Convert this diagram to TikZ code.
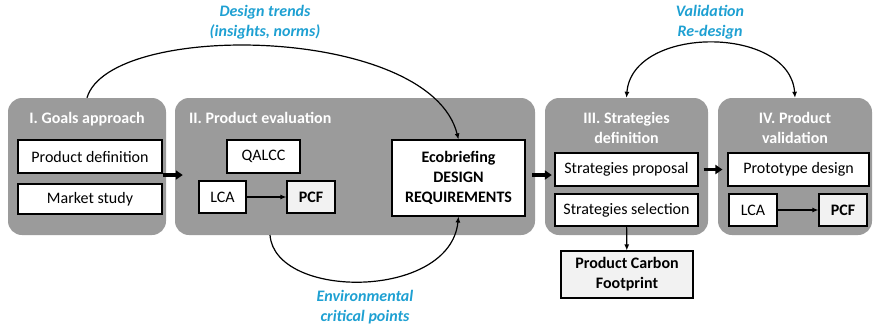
\documentclass[tikz,border=0pt]{standalone}
\usepackage{fontspec}
\setmainfont{Carlito}
\usetikzlibrary{arrows.meta}

\definecolor{panelgray}{RGB}{155,155,155}
\definecolor{boxgray}{RGB}{242,242,242}
\definecolor{noteblue}{RGB}{30,160,210}

\tikzstyle{panel}=[rectangle,rounded corners=14pt,fill=panelgray,inner sep=0pt]
\tikzstyle{title}=[text=white,font=\bfseries,align=center,inner sep=0pt]
\tikzstyle{box}=[rectangle,draw,line width=1.1pt,fill=white,inner sep=0pt,align=center]
\tikzstyle{result}=[box,fill=boxgray,font=\bfseries]
\tikzstyle{flow}=[draw,line width=3.4pt,-{Triangle[length=7pt,width=9pt]}]
\tikzstyle{link}=[draw,line width=1.2pt,-{Latex[length=6pt,width=5pt]}]
\tikzstyle{note}=[text=noteblue,font=\bfseries\itshape,align=center]

\begin{document}
\fontsize{16}{20}\selectfont
\begin{tikzpicture}[x=1pt,y=-1pt]
     \useasboundingbox (0,0) rectangle (873,330);

     % the four stages
     \foreach \pos/\len/\name in {{(87,166.5)/158/goals}, {(355,166.5)/360/evaluation},
       {(626.5,166.5)/163/strategies}, {(795,166.5)/154/validation}}
     \node[panel,minimum width=\len pt,minimum height=137pt] (\name) at \pos {};

     \node[title] (goalsT) at (87,119) {I. Goals approach};
     \node[title,anchor=west] (evaluationT) at (189,118) {II. Product evaluation};
     \node[title] (strategiesT) at (626.5,128) {III. Strategies\\definition};
     \node[title] (validationT) at (795,128) {IV. Product\\validation};

     % boxes inside the stages
     \node[box,minimum width=144pt,minimum height=33pt] (definition) at (90,156.5) {Product definition};
     \node[box,minimum width=144pt,minimum height=30pt] (market) at (90,199) {Market study};
     \node[box,minimum width=73pt,minimum height=33pt] (qalcc) at (263.5,156.5) {QALCC};
     \node[box,minimum width=47pt,minimum height=32pt] (lcaA) at (222.5,197) {LCA};
     \node[result,minimum width=48pt,minimum height=32pt] (pcfA) at (311,197) {PCF};
     \node[box,font=\bfseries,minimum width=133pt,minimum height=76pt] (eco) at (458.5,178)
       {Ecobriefing\\DESIGN\\REQUIREMENTS};
     \node[box,minimum width=143pt,minimum height=33pt] (proposal) at (626.5,169.5) {Strategies proposal};
     \node[box,minimum width=143pt,minimum height=32pt] (selection) at (626.5,210) {Strategies selection};
     \node[result,minimum width=132pt,minimum height=47pt] (carbon) at (627,274.5) {Product Carbon\\Footprint};
     \node[box,minimum width=141pt,minimum height=33pt] (prototype) at (798.5,169.5) {Prototype design};
     \node[box,minimum width=48pt,minimum height=32pt] (lcaB) at (753,210) {LCA};
     \node[result,minimum width=48pt,minimum height=32pt] (pcfB) at (843,210) {PCF};

     % main flow
     \path[flow] ([xshift=-3pt,yshift=-8.5pt]goals.east) -- ([xshift=8pt,yshift=-8.5pt]evaluation.west);
     \path[flow] ([xshift=-3pt,yshift=-8.5pt]evaluation.east) -- ([xshift=7pt,yshift=-8.5pt]strategies.west);
     \path[flow,shorten <=5pt,shorten >=5pt] (proposal) -- (prototype);

     \foreach \source/\dest in {lcaA/pcfA, lcaB/pcfB}
     \path[link] (\source) -- (\dest);
     \path[link] (selection) -- (carbon);

     % feedback loops
     \coordinate (envstart) at (270,235);
     \path[link] (goals.north) .. controls (110,20) and (430,25) .. (eco.north);
     \path[link] (envstart) .. controls (275,300) and (450,300) .. (eco.south);
     \path[link,{Latex[length=6pt,width=5pt]}-{Latex[length=6pt,width=5pt]}]
       (strategies.north) .. controls (632,25) and (790,25) .. (validation.north);

     \node[note] (trends) at (265,22) {Design trends\\(insights, norms)};
     \node[note] (critical) at (365,307) {Environmental\\critical points};
     \node[note] (redesign) at (710,22) {Validation\\Re-design};
   \end{tikzpicture}
\end{document}
